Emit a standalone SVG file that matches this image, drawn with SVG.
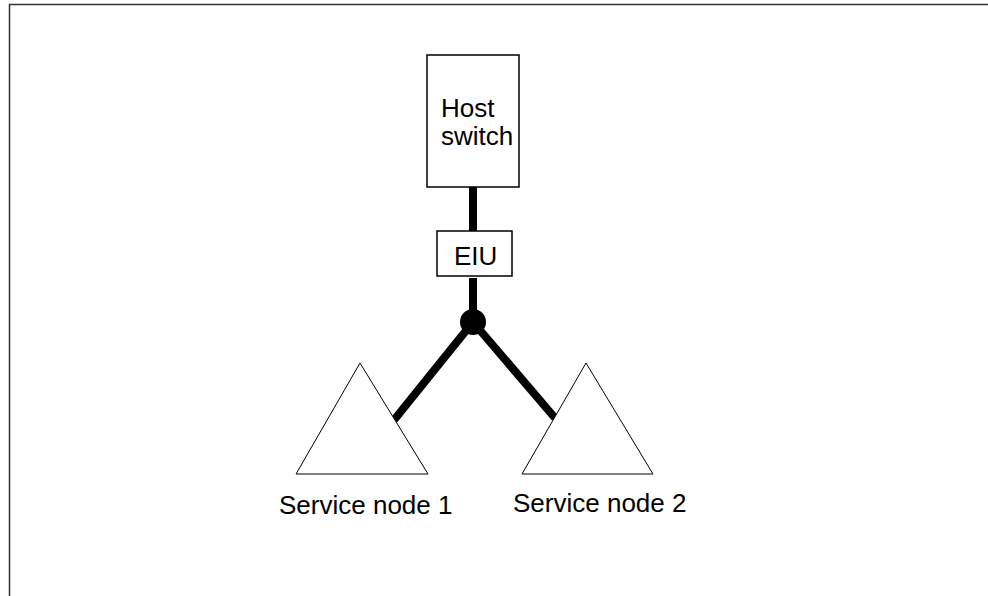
<svg xmlns="http://www.w3.org/2000/svg" width="988" height="596" viewBox="0 0 988 596">
<style>
.box{fill:#fff;stroke:#000;stroke-width:1.5}
.tri{fill:#fff;stroke:#000;stroke-width:1}
.lbl{font-family:"Liberation Sans",Arial,sans-serif;font-size:26px;fill:#000}
.link{stroke:#000;stroke-width:8;fill:none}
</style>
<rect x="0" y="0" width="988" height="596" fill="#fff"/>
<g id="frame"><path d="M9.5,596 V4.5 H988" fill="none" stroke="#333" stroke-width="1.5"/></g>
<g id="connectors">
<line class="link" x1="473" y1="187" x2="473" y2="231"/>
<line class="link" x1="473" y1="278" x2="473" y2="322"/>
<line class="link" x1="473" y1="322" x2="394" y2="420"/>
<line class="link" x1="473" y1="322" x2="555" y2="418"/>
<circle cx="473" cy="322" r="13" fill="#000"/>
</g>
<g id="host-switch">
<rect class="box" x="427" y="55" width="92" height="132"/>
<text class="lbl" x="441" y="117">Host</text>
<text class="lbl" x="441" y="145">switch</text>
</g>
<g id="eiu">
<rect class="box" x="437" y="231" width="75" height="45"/>
<text class="lbl" x="454" y="265">EIU</text>
</g>
<g id="service-node-1">
<polygon class="tri" points="360,363 428,474 296,474"/>
<text class="lbl" x="279" y="514">Service node 1</text>
</g>
<g id="service-node-2">
<polygon class="tri" points="586,363 653,474 522,474"/>
<text class="lbl" x="513" y="512">Service node 2</text>
</g>
</svg>
